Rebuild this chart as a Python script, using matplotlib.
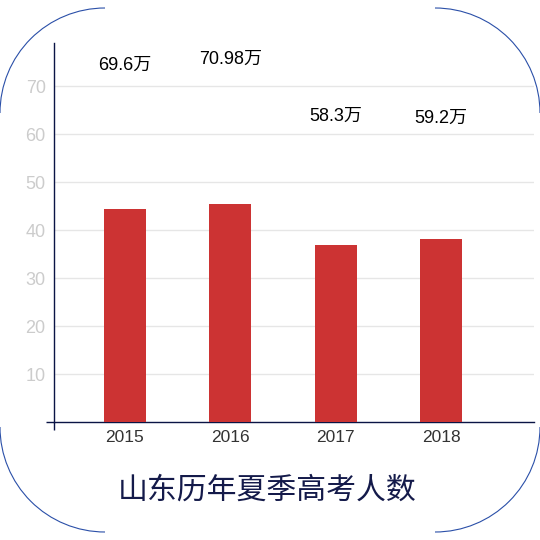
import matplotlib
matplotlib.use("Agg")
import matplotlib.pyplot as plt
from matplotlib.patches import Arc

plt.rcParams['font.family'] = ['Liberation Sans', 'Noto Sans CJK SC', 'DejaVu Sans']

years = ['2015', '2016', '2017', '2018']
bar_values = [44.3, 45.4, 36.9, 38.1]
value_labels = ['69.6万', '70.98万', '58.3万', '59.2万']
label_heights = [74.4, 75.6, 63.7, 63.3]
yticks = [10, 20, 30, 40, 50, 60, 70]
title = '山东历年夏季高考人数'

fig = plt.figure(figsize=(5.4, 5.4), dpi=100)
ax = fig.add_axes([54/540, 1-422/540, (534-54)/540, (422-43)/540])

x = list(range(len(years)))
ax.bar(x, bar_values, width=0.4, color='#cc3333', zorder=3)
for xi, lab, h in zip(x, value_labels, label_heights):
    ax.text(xi, h, lab, ha='center', va='center', fontsize=13, color='#000000')

ax.set_xlim(-0.674, 3.883)
ax.set_ylim(0, 79)
ax.set_xticks(x)
ax.set_xticklabels(years, fontsize=12.5, color='#333333')
ax.set_yticks(yticks)
ax.set_yticklabels([str(t) for t in yticks], fontsize=13, color='#cccccc')
ax.tick_params(axis='both', length=0, pad=6)
ax.set_yticks([0], minor=True)
ax.set_xticks([-0.674], minor=True)
ax.tick_params(axis='y', which='minor', length=6, color='#0a1445', width=1)
ax.tick_params(axis='x', which='minor', length=6, color='#0a1445', width=1)
ax.grid(axis='y', color='#e6e6e6', linewidth=1, zorder=0)
for s in ['top', 'right']:
    ax.spines[s].set_visible(False)
for s in ['left', 'bottom']:
    ax.spines[s].set_color('#0a1445')
    ax.spines[s].set_linewidth(1)

fig.text(267/540, 1-491/540, title, ha='center', va='center', fontsize=21.5, color='#141a4a')

# rounded frame corners (figure pixel coordinates)
r = 105
for (cx, cy, t1, t2) in [(105, 113, 90, 180), (435, 113, 0, 90),
                         (105, 427, 180, 270), (435, 427, 270, 360)]:
    arc = Arc((cx/540, 1-cy/540), 2*r/540, 2*r/540, theta1=t1, theta2=t2,
              transform=fig.transFigure, color='#2a4fa8', linewidth=0.8)
    fig.add_artist(arc)

fig.savefig('out.png', dpi=100)
